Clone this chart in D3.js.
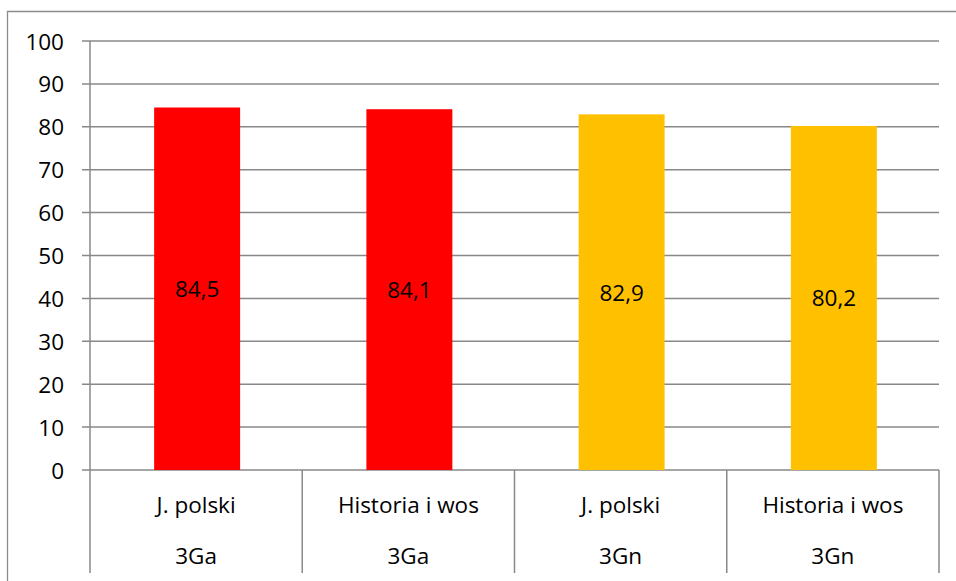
<!DOCTYPE html>
<html><head><meta charset="utf-8">
<script src="https://cdn.jsdelivr.net/npm/d3@7"></script>
<style>body{margin:0;background:#fff}svg{display:block}</style>
</head><body>
<svg id="c" width="956" height="581"></svg>
<script>
const subjects = ["J. polski", "Historia i wos", "J. polski", "Historia i wos"];
const classes = ["3Ga", "3Ga", "3Gn", "3Gn"];
const values = [84.5, 84.1, 82.9, 80.2];
const barColors = ["#FF0000", "#FF0000", "#FFC000", "#FFC000"];
const yTicks = [0, 10, 20, 30, 40, 50, 60, 70, 80, 90, 100];
const valueLabels = ["84,5", "84,1", "82,9", "80,2"];

const svg = d3.select("#c");
const font = "'Open Sans', sans-serif";
const fs = 22.5;
const gridColor = "#888888";
const L = 90, R = 939, T = 41, B = 470;

// outer border (top + left)
svg.append("path").attr("d", "M7.5,581 V11.5 H956").attr("fill", "none").attr("stroke", "#8c8c8c").attr("stroke-width", 1.3);

const idx = d3.range(values.length);
const x = d3.scaleBand().domain(idx).range([L, R]).paddingInner(0).paddingOuter(0);
const y = d3.scaleLinear().domain([0, 100]).range([B, T]);

// gridlines
svg.append("g").selectAll("line").data(yTicks).join("line")
  .attr("x1", L - 8).attr("x2", R).attr("y1", d => y(d)).attr("y2", d => y(d))
  .attr("stroke", gridColor).attr("stroke-width", 1.5);

// y axis line
svg.append("line").attr("x1", L).attr("x2", L).attr("y1", T).attr("y2", 573)
  .attr("stroke", gridColor).attr("stroke-width", 1.5);

// y tick labels
svg.append("g").selectAll("text").data(yTicks).join("text")
  .attr("x", 64).attr("y", d => y(d)).attr("text-anchor", "end").attr("dominant-baseline", "central")
  .attr("font-family", font).attr("font-size", fs).attr("fill", "#000").text(d => d);

// category separators
svg.append("g").selectAll("line").data(idx.slice(1).concat([values.length])).join("line")
  .attr("x1", d => d === values.length ? R : x(d)).attr("x2", d => d === values.length ? R : x(d))
  .attr("y1", B).attr("y2", 573).attr("stroke", gridColor).attr("stroke-width", 1.5);

// bars
const bw = x.bandwidth() * 0.405;
svg.append("g").selectAll("rect").data(idx).join("rect")
  .attr("x", i => x(i) + x.bandwidth() / 2 - bw / 2 + 1).attr("width", bw)
  .attr("y", i => y(values[i])).attr("height", i => y(0) - y(values[i]))
  .attr("fill", i => barColors[i]);

// value labels
svg.append("g").selectAll("text").data(idx).join("text")
  .attr("x", i => x(i) + x.bandwidth() / 2 + 1).attr("y", i => y(values[i] / 2))
  .attr("text-anchor", "middle").attr("dominant-baseline", "central")
  .attr("font-family", font).attr("font-size", fs).attr("fill", "#000").text(i => valueLabels[i]);

// category labels
svg.append("g").selectAll("text").data(idx).join("text")
  .attr("x", i => x(i) + x.bandwidth() / 2).attr("y", 504)
  .attr("text-anchor", "middle").attr("dominant-baseline", "central")
  .attr("font-family", font).attr("font-size", fs).attr("fill", "#000").text(i => subjects[i]);
svg.append("g").selectAll("text").data(idx).join("text")
  .attr("x", i => x(i) + x.bandwidth() / 2).attr("y", 555)
  .attr("text-anchor", "middle").attr("dominant-baseline", "central")
  .attr("font-family", font).attr("font-size", fs).attr("fill", "#000").text(i => classes[i]);
</script>
</body></html>
